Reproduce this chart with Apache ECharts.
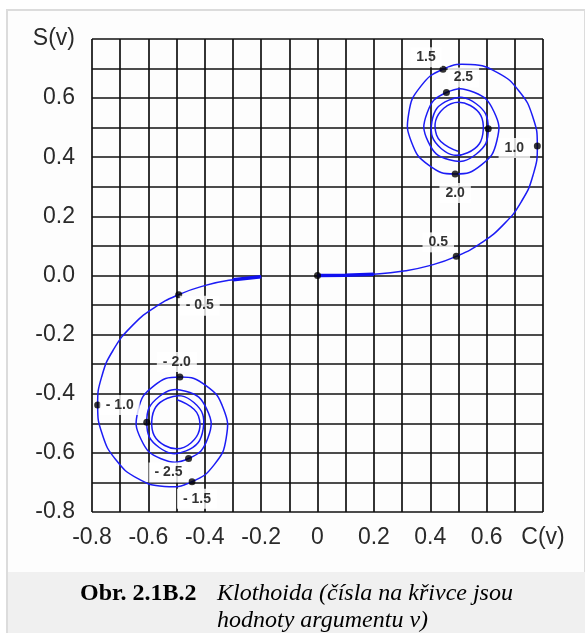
<!DOCTYPE html>
<html>
<head>
<meta charset="utf-8">
<script src="https://cdn.jsdelivr.net/npm/echarts@6/dist/echarts.min.js"></script>
<style>
html,body{margin:0;padding:0;background:#fff;}
#chart{width:585px;height:633px;}
</style>
</head>
<body>
<div id="chart"></div>
<script>
// Clothoid (Cornu spiral) points: [C(v), S(v)]
const rightBranchC = [0.0000,0.0999,0.1999,0.2994,0.3975,0.4923,0.5811,0.6597,0.7228,0.7648,0.7799,0.7638,0.7154,0.6386,0.5431,0.4453,0.3655,0.3238,0.3336,0.3945,0.4883,0.5816,0.6363,0.6266,0.5550,0.4574,0.3889,0.3925,0.4675,0.5624,0.6057,0.5616,0.4663,0.4057,0.4385,0.5326,0.5880,0.5420,0.4481,0.4223,0.4984];
const rightBranchS = [0.0000,0.0005,0.0042,0.0141,0.0334,0.0647,0.1105,0.1721,0.2493,0.3398,0.4383,0.5365,0.6234,0.6863,0.7135,0.6975,0.6389,0.5492,0.4509,0.3734,0.3434,0.3743,0.4557,0.5532,0.6197,0.6192,0.5500,0.4529,0.3915,0.4101,0.4963,0.5818,0.5934,0.5193,0.4297,0.4153,0.4923,0.5750,0.5656,0.4752,0.4205];
const leftBranchC = [-0.1999,-0.2994,-0.3975,-0.4923,-0.5811,-0.6597,-0.7228,-0.7648,-0.7799,-0.7638,-0.7154,-0.6386,-0.5431,-0.4453,-0.3655,-0.3238,-0.3336,-0.3945,-0.4883,-0.5816,-0.6363,-0.6266,-0.5550,-0.4574,-0.3889,-0.3925,-0.4675,-0.5624,-0.6057,-0.5616,-0.4663,-0.4057,-0.4385,-0.5326,-0.5880,-0.5420,-0.4481,-0.4223,-0.4984];
const leftBranchS = [-0.0042,-0.0141,-0.0334,-0.0647,-0.1105,-0.1721,-0.2493,-0.3398,-0.4383,-0.5365,-0.6234,-0.6863,-0.7135,-0.6975,-0.6389,-0.5492,-0.4509,-0.3734,-0.3434,-0.3743,-0.4557,-0.5532,-0.6197,-0.6192,-0.5500,-0.4529,-0.3915,-0.4101,-0.4963,-0.5818,-0.5934,-0.5193,-0.4297,-0.4153,-0.4923,-0.5750,-0.5656,-0.4752,-0.4205];

// Marked points (dots) and their argument labels
const markC = [0.0000, 0.4923, 0.7799, 0.4453, 0.4883, 0.4574, 0.6057, -0.4923, -0.7799, -0.4453, -0.4883, -0.4574, -0.6057];
const markS = [0.0000, 0.0647, 0.4383, 0.6975, 0.3434, 0.6192, 0.4963, -0.0647, -0.4383, -0.6975, -0.3434, -0.6192, -0.4963];
const markText = ['', '0.5', '1.0', '1.5', '2.0', '2.5', '', '- 0.5', '- 1.0', '- 1.5', '- 2.0', '- 2.5', ''];

const xTickLabels = {'-8':'-0.8','-6':'-0.6','-4':'-0.4','-2':'-0.2','0':'0','2':'0.2','4':'0.4','6':'0.6','8':'C(v)'};
const yTickLabels = {'-8':'-0.8','-6':'-0.6','-4':'-0.4','-2':'-0.2','0':'0.0','2':'0.2','4':'0.4','6':'0.6','8':'S(v)'};

const labelOffsets = [[0,0],[-18,-14],[-23,2],[-17,-12],[0,19],[17,-15],[0,0],[21,11],[22,0],[5,17],[-3,-15],[-20,14],[0,0]];

const zip = (a, b) => a.map((v, i) => [v, b[i]]);
const rightData = zip(rightBranchC, rightBranchS);
const leftData = zip(leftBranchC, leftBranchS);
const markData = markC.map((c, i) => ({
  value: [c, markS[i]],
  label: {
    show: markText[i] !== '',
    formatter: markText[i],
    offset: labelOffsets[i]
  }
}));

// One custom series per branch: a smooth polyline through all points, placed by the axes
function curveSeries(points, width, color) {
  return {
    type: 'custom',
    coordinateSystem: 'cartesian2d',
    data: points,
    encode: {x: 0, y: 1},
    z: 3,
    silent: true,
    renderItem: function (params, api) {
      if (params.dataIndex !== 0) return null;
      const pts = points.map(p => api.coord(p));
      return {
        type: 'polyline',
        shape: {points: pts, smooth: 0.5},
        style: {fill: null, stroke: color, lineWidth: width}
      };
    }
  };
}

const chart = echarts.init(document.getElementById('chart'), null, {renderer: 'canvas'});
const gridStyle = {color: '#111', width: 1.7};
const axisFont = {fontFamily: 'Liberation Sans, Arial, sans-serif', fontSize: 23, color: '#2a2a2a'};
const serif = '"Liberation Serif", "Times New Roman", serif';

chart.setOption({
  backgroundColor: 'transparent',
  animation: false,
  graphic: [
    {type: 'rect', z: -10, shape: {x: 7, y: 10, width: 578, height: 623}, style: {fill: '#fdfdfd', stroke: '#dcdcdc', lineWidth: 2}},
    {type: 'rect', z: -9, shape: {x: 8, y: 572, width: 577, height: 61}, style: {fill: '#f0f0f0'}},
    {type: 'text', z: 10, style: {x: 80, y: 582, text: 'Obr. 2.1B.2', font: 'bold 24px ' + serif, fill: '#000', verticalAlign: 'top'}},
    {type: 'text', z: 10, style: {x: 217, y: 582, text: 'Klothoida (čísla na křivce jsou', font: 'italic 24px ' + serif, fill: '#000', verticalAlign: 'top'}},
    {type: 'text', z: 10, style: {x: 217, y: 609, text: 'hodnoty argumentu v)', font: 'italic 24px ' + serif, fill: '#000', verticalAlign: 'top'}}
  ],
  grid: {left: 92, top: 39, width: 451, height: 473, containLabel: false},
  xAxis: {
    type: 'value', min: -0.8, max: 0.8, interval: 0.1,
    axisLine: {show: false}, axisTick: {show: false},
    splitLine: {show: true, lineStyle: gridStyle},
    axisLabel: Object.assign({}, axisFont, {
      margin: 14,
      formatter: v => { const k = Math.round(v * 10); return xTickLabels[String(k)] || ''; }
    })
  },
  yAxis: {
    type: 'value', min: -0.8, max: 0.8, interval: 0.1,
    axisLine: {show: false}, axisTick: {show: false},
    splitLine: {show: true, lineStyle: gridStyle},
    axisLabel: Object.assign({}, axisFont, {
      margin: 17,
      formatter: v => { const k = Math.round(v * 10); return yTickLabels[String(k)] || ''; }
    })
  },
  series: [
    curveSeries(rightData, 1.5, '#1c1cf5'),
    curveSeries(leftData, 1.5, '#1c1cf5'),
    {type: 'line', data: rightData.slice(0, 3), showSymbol: false, lineStyle: {color: '#1010f0', width: 3.5}, z: 3},
    {type: 'line', data: leftData.slice(0, 2), showSymbol: false, lineStyle: {color: '#1010f0', width: 3.5}, z: 3},
    {
      type: 'scatter', data: markData, symbol: 'circle', symbolSize: 7,
      itemStyle: {color: '#000'}, z: 5,
      label: {
        show: true, position: 'inside',
        fontFamily: '"Liberation Sans Narrow", "Liberation Sans", Arial, sans-serif',
        fontWeight: 'bold', fontSize: 14, color: '#000',
        backgroundColor: '#fff', padding: [3, 6]
      }
    }
  ]
});
</script>
</body>
</html>
